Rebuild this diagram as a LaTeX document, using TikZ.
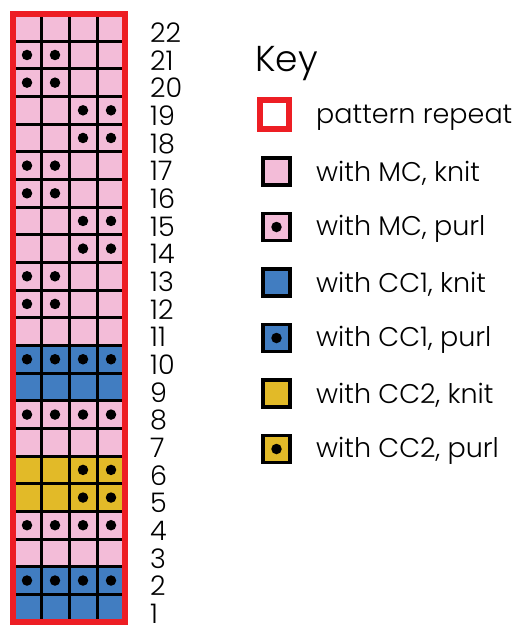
\documentclass[tikz,border=0pt]{standalone}
\usepackage{fontspec}
\setmainfont{Poppins}[UprightFont={* Light}]
\definecolor{mc}{RGB}{243,188,216}
\definecolor{ccone}{RGB}{65,125,193}
\definecolor{cctwo}{RGB}{226,186,40}
\definecolor{rep}{RGB}{237,30,36}
\begin{document}
\begin{tikzpicture}[x=1pt,y=-1pt,
  purldot/.style={fill=black,circle,inner sep=0pt,minimum size=10.5pt},
  rownum/.style={anchor=west,font=\fontsize{27}{27}\selectfont,inner sep=0pt},
  keytext/.style={anchor=west,font=\fontsize{27}{27}\selectfont,inner sep=0pt},
  keybox/.style={draw=black,line width=3.5pt,minimum size=27pt,inner sep=0pt},
  repbox/.style={draw=rep,fill=white,line width=6pt,minimum size=29pt,inner sep=0pt}]
\useasboundingbox (0,0) rectangle (515,625);
\def\gl{13}\def\gt{13.5}\def\cw{28}\def\ch{27.66}
% rows: number, colour, dot list
\foreach \r/\c/\dots in {22/mc/{},21/mc/{1,2},20/mc/{1,2},19/mc/{3,4},18/mc/{3,4},
  17/mc/{1,2},16/mc/{1,2},15/mc/{3,4},14/mc/{3,4},13/mc/{1,2},12/mc/{1,2},11/mc/{},
  10/ccone/{1,2,3,4},9/ccone/{},8/mc/{1,2,3,4},7/mc/{},6/cctwo/{3,4},5/cctwo/{3,4},
  4/mc/{1,2,3,4},3/mc/{},2/ccone/{1,2,3,4},1/ccone/{}}{
  \pgfmathsetmacro{\ytop}{\gt+(22-\r)*\ch}
  \fill[\c] (\gl,\ytop) rectangle (\gl+4*\cw,\ytop+\ch);
  \foreach \k in \dots {
    \node[purldot] (d\r-\k) at ({\gl+(\k-0.5)*\cw},{\ytop+0.5*\ch}) {};
  }
  \node[rownum] (n\r) at (150,{\ytop+0.5*\ch+5.5}) {\r};
}
% grid lines
\foreach \i in {1,2,3} \draw[line width=3pt] ({\gl+\i*\cw},\gt) -- ({\gl+\i*\cw},{\gt+22*\ch});
\foreach \j in {1,...,21} \draw[line width=3pt] (\gl,{\gt+\j*\ch}) -- ({\gl+4*\cw},{\gt+\j*\ch});
% pattern repeat border
\draw[rep,line width=6pt] (\gl,\gt) rectangle ({\gl+4*\cw},{\gt+22*\ch});
% key
\node[anchor=west,inner sep=0pt,font=\fontsize{36}{36}\selectfont] (keytitle) at (255,64) {Key};
\node[repbox] (k0) at (274.5,114.5) {};
\node[keytext] (t0) at (316,118) {pattern repeat};
\foreach \i/\c/\d/\t in {1/mc/0/{with MC, knit},2/mc/1/{with MC, purl},3/ccone/0/{with CC1, knit},
  4/ccone/1/{with CC1, purl},5/cctwo/0/{with CC2, knit},6/cctwo/1/{with CC2, purl}}{
  \pgfmathsetmacro{\yy}{118+\i*55.5}
  \node[keybox,fill=\c] (k\i) at (276.5,\yy-2) {};
  \ifnum\d=1 \node[purldot] (kd\i) at (k\i.center) {}; \fi
  \node[keytext] (t\i) at (316,\yy) {\t};
}
\end{tikzpicture}
\end{document}
